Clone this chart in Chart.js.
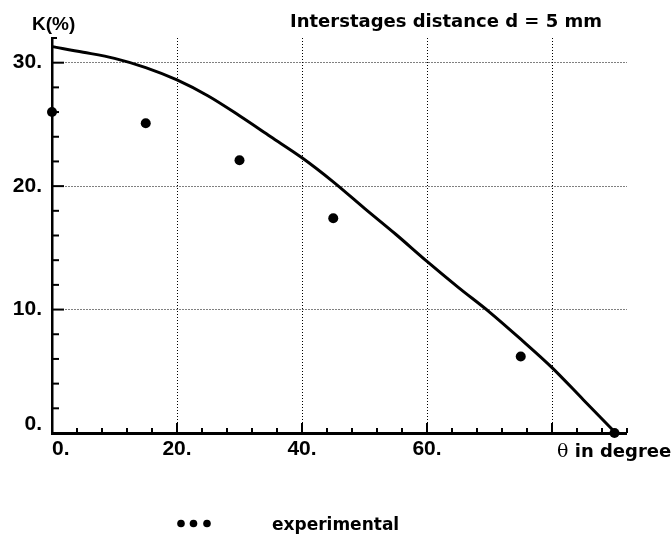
<!DOCTYPE html>
<html>
<head>
<meta charset="utf-8">
<script src="https://cdn.jsdelivr.net/npm/chart.js@4.4.1/dist/chart.umd.min.js"></script>
<style>
  html, body { margin: 0; padding: 0; background: #ffffff; }
  #wrap { width: 672px; height: 539px; }
</style>
</head>
<body>
<div id="wrap"><canvas id="c" width="672" height="539"></canvas></div>
<script>
// ---- data ----
const curveAngles = [0, 5, 10, 15, 20, 25, 30, 35, 40, 45, 50, 55, 60, 65, 70, 75, 80, 85, 90];
const curveK      = [31.3, 30.85, 30.35, 29.6, 28.6, 27.3, 25.7, 24.0, 22.3, 20.35, 18.2, 16.1, 13.9, 11.8, 9.8, 7.6, 5.3, 2.7, 0.1];
const expAngles   = [0, 15, 30, 45, 75, 90];
const expK        = [26.0, 25.1, 22.1, 17.4, 6.2, 0.0];
const xTickValues = [0, 20, 40, 60, 80];
const xTickLabels = ['   0.', '20.', '40.', '60.', ''];
const yTickValues = [0, 10, 20, 30];
const yTickLabels = [['0.', ''], '10.', '20.', '30.'];
const yAxisTitle  = 'K(%)';
const chartTitle  = 'Interstages distance d = 5 mm';
const xAxisSymbol = '\u03B8';
const xAxisTitle  = ' in degree';
const legendLabel = 'experimental';

const curveData = curveAngles.map((a, i) => ({ x: a, y: curveK[i] }));
const expData   = expAngles.map((a, i) => ({ x: a, y: expK[i] }));

const tickFont = { family: 'Liberation Sans, Arial, sans-serif', size: 21, weight: 'bold' };

const extras = {
  id: 'extras',
  afterDraw(chart) {
    const ctx = chart.ctx;
    const xs = chart.scales.x, ys = chart.scales.y;
    const area = chart.chartArea;
    ctx.save();
    ctx.strokeStyle = '#000';
    ctx.fillStyle = '#000';
    // inner tick marks on the y axis
    ctx.lineWidth = 2;
    for (let v = 2; v <= 32; v += 2) {
      const py = ys.getPixelForValue(v);
      const len = (v % 10 === 0) ? 12 : (v === 32 ? 5 : 7);
      ctx.beginPath();
      ctx.moveTo(area.left, py);
      ctx.lineTo(area.left + len, py);
      ctx.stroke();
    }
    // inner tick marks on the x axis
    for (let v = 4; v <= 92; v += 4) {
      const px = xs.getPixelForValue(v);
      const len = (v % 20 === 0) ? 10 : 5;
      ctx.beginPath();
      ctx.moveTo(px, area.bottom);
      ctx.lineTo(px, area.bottom - len);
      ctx.stroke();
    }
    // texts
    ctx.textBaseline = 'alphabetic';
    ctx.textAlign = 'left';
    ctx.font = 'bold 19px "Liberation Sans", Arial, sans-serif';
    ctx.fillText(yAxisTitle, 32, 30);
    ctx.font = 'bold 18px "DejaVu Sans", sans-serif';
    ctx.fillText(chartTitle, 290, 27);
    // x-axis title next to the last tick
    ctx.font = '19px "DejaVu Serif", "Liberation Serif", serif';
    ctx.fillText(xAxisSymbol, 557, 457);
    const w = ctx.measureText(xAxisSymbol).width;
    ctx.font = 'bold 18px "DejaVu Sans", sans-serif';
    ctx.fillText(xAxisTitle, 557 + w, 457);
    // legend
    const ds = chart.data.datasets[1];
    ctx.fillStyle = ds.backgroundColor;
    [181, 193.5, 207].forEach(cx => {
      ctx.beginPath();
      ctx.arc(cx, 523.5, 3.8, 0, Math.PI * 2);
      ctx.fill();
    });
    ctx.fillStyle = '#000';
    ctx.font = 'bold 17px "DejaVu Sans", sans-serif';
    ctx.fillText(ds.label, 272, 529.5);
    ctx.restore();
  }
};

new Chart(document.getElementById('c'), {
  data: {
    datasets: [
      {
        type: 'line',
        label: 'model',
        data: curveData,
        borderColor: '#000',
        borderWidth: 3,
        pointRadius: 0,
        fill: false,
        cubicInterpolationMode: 'monotone',
        clip: false,
        order: 2
      },
      {
        type: 'scatter',
        label: legendLabel,
        data: expData,
        backgroundColor: '#000',
        borderColor: '#000',
        borderWidth: 0,
        pointRadius: 5,
        clip: false,
        order: 1
      }
    ]
  },
  options: {
    responsive: false,
    animation: false,
    devicePixelRatio: 1,
    layout: { padding: { left: 0, top: 38, right: 45, bottom: 0 } },
    plugins: { legend: { display: false }, tooltip: { enabled: false }, title: { display: false } },
    scales: {
      x: {
        type: 'linear',
        position: 'bottom',
        min: 0,
        max: 92,
        afterBuildTicks: (scale) => { scale.ticks = xTickValues.map(v => ({ value: v })); },
        afterFit: (scale) => { scale.height = 106; },
        ticks: {
          autoSkip: false,
          maxRotation: 0,
          padding: 4,
          color: '#000',
          font: tickFont,
          callback: (v) => { const i = xTickValues.indexOf(v); return i >= 0 ? xTickLabels[i] : ''; }
        },
        grid: {
          drawTicks: false,
          color: '#000',
          lineWidth: (c) => (c.tick && c.tick.value === 0) ? 0 : 1
        },
        border: { display: true, color: '#000', width: 3, dash: [1, 2] }
      },
      y: {
        type: 'linear',
        min: 0,
        max: 32,
        afterBuildTicks: (scale) => { scale.ticks = yTickValues.map(v => ({ value: v })); },
        afterFit: (scale) => { scale.width = 52; },
        ticks: {
          autoSkip: false,
          padding: 10,
          color: '#000',
          font: Object.assign({}, tickFont, { lineHeight: 0.8 }),
          callback: (v) => { const i = yTickValues.indexOf(v); return i >= 0 ? yTickLabels[i] : ''; }
        },
        grid: {
          drawTicks: false,
          color: '#000',
          lineWidth: (c) => (c.tick && c.tick.value === 0) ? 0 : 1
        },
        border: { display: true, color: '#000', width: 2.5, dash: [1, 2] }
      }
    }
  },
  plugins: [extras]
});
</script>
</body>
</html>
